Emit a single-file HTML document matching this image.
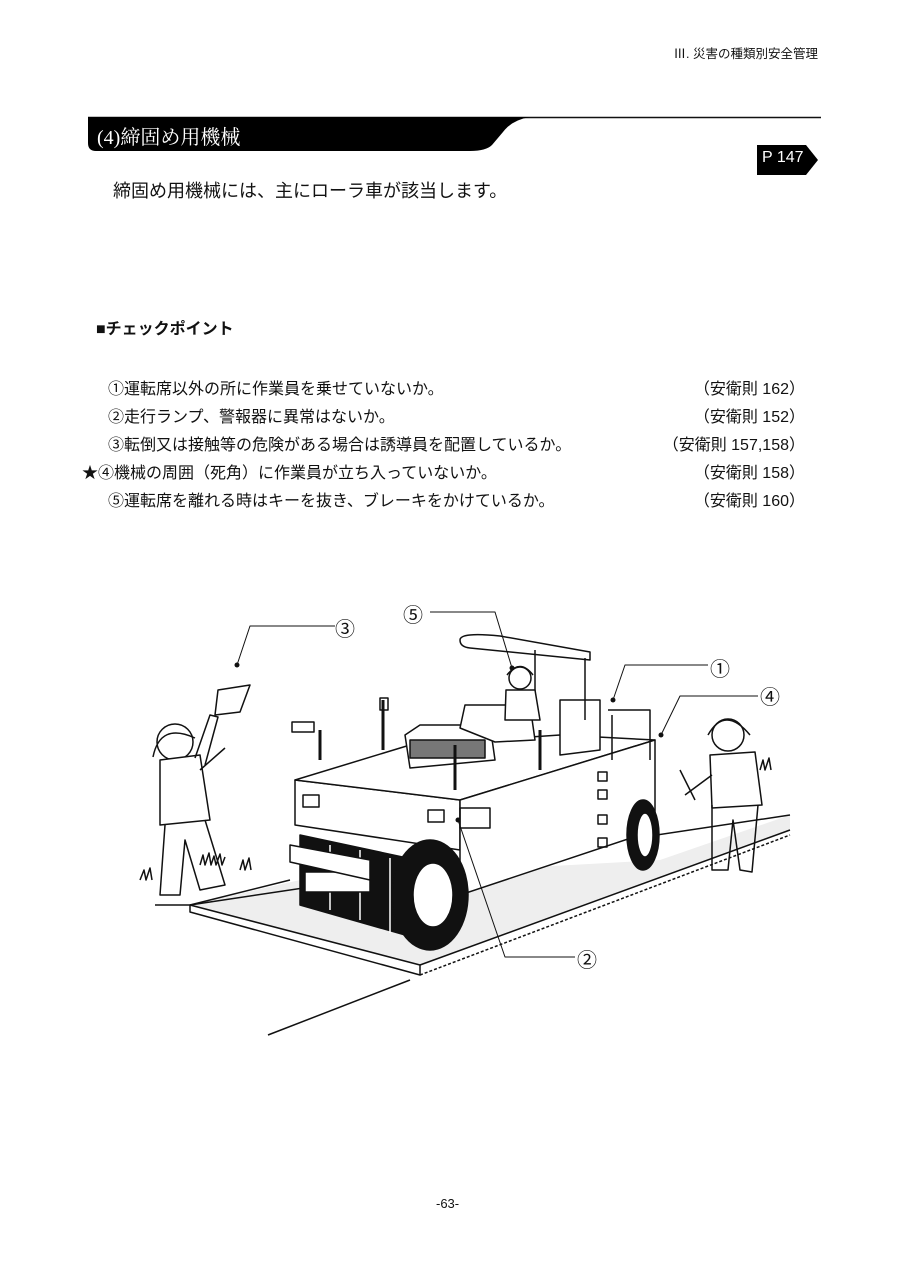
<!DOCTYPE html>
<html><head><meta charset="utf-8"><style>
body{margin:0;background:#fff;}
#p{position:relative;width:904px;height:1280px;overflow:hidden;font-family:"Liberation Sans","Noto Sans CJK JP",sans-serif;color:#111;}
.a{position:absolute;white-space:nowrap;}
.r{position:absolute;right:99px;white-space:nowrap;font-size:16px;}
.li{position:absolute;left:108px;font-size:16px;white-space:nowrap;}
</style></head><body><div id="p">
<div class="a" style="right:86px;top:43px;font-size:12.5px;">Ⅲ. 災害の種類別安全管理</div>
<svg class="a" style="left:0;top:0" width="904" height="260">
<line x1="88" y1="117.5" x2="821" y2="117.5" stroke="#111" stroke-width="1.5"/>
<path d="M88 117 L530 117 Q512 120 503 132 L492 145 Q486 151 470 151 L96 151 Q88 151 88 143 Z" fill="#000"/>
<path d="M757 145 L806 145 L818 160 L806 175 L757 175 Z" fill="#000"/>
</svg>
<div class="a" style="left:97px;top:121px;font-size:20px;color:#fff;font-family:'Liberation Serif','Noto Serif CJK SC',serif;">(4)締固め用機械</div>
<div class="a" style="left:762px;top:149px;font-size:16px;color:#fff;">P 147</div>
<div class="a" style="left:113px;top:177px;font-size:18px;">締固め用機械には、主にローラ車が該当します。</div>
<div class="a" style="left:96px;top:315px;font-size:16px;font-weight:bold;">■チェックポイント</div>
<div class="li" style="top:375px">①運転席以外の所に作業員を乗せていないか。</div><div class="r" style="top:375px">（安衛則 162）</div>
<div class="li" style="top:403px">②走行ランプ、警報器に異常はないか。</div><div class="r" style="top:403px">（安衛則 152）</div>
<div class="li" style="top:431px">③転倒又は接触等の危険がある場合は誘導員を配置しているか。</div><div class="r" style="top:431px">（安衛則 157,158）</div>
<div class="li" style="top:459px;left:82px">★④機械の周囲（死角）に作業員が立ち入っていないか。</div><div class="r" style="top:459px">（安衛則 158）</div>
<div class="li" style="top:487px">⑤運転席を離れる時はキーを抜き、ブレーキをかけているか。</div><div class="r" style="top:487px">（安衛則 160）</div>

<svg class="a" style="left:0;top:580px" width="904" height="480" viewBox="0 580 904 480" fill="none" stroke="#111" stroke-width="1.5" stroke-linejoin="round">
<path d="M190 905 L420 965 L790 830 L790 815 L660 860 L300 880 Z" fill="#eee" stroke="none"/>
<path d="M155 905 L190 905 L790 815" />
<path d="M190 905 L420 965 L420 975 L190 912 Z" fill="#fff"/>
<path d="M190 905 L290 880 M420 965 L790 830" />
<path d="M268 1035 L410 980" />
<path d="M420 975 L790 835" stroke-dasharray="3 2"/>
<path d="M140 880 l4 -10 l2 10 l4 -12 l2 12 M200 865 l3 -10 l2 10 l4 -12 l2 12 l3 -9 l2 9 l4 -11 l2 11 l3 -8 M240 870 l3 -10 l2 10 l4 -12 l2 12 M760 770 l3 -10 l2 10 l4 -12 l2 12"/>
<path d="M295 780 L460 800 L460 850 L295 825 Z" fill="#fff"/>
<path d="M295 780 L410 745 L560 735 L655 740 L460 800 Z" fill="#fff"/>
<path d="M460 800 L655 740 L655 830 L460 895 Z" fill="#fff"/>
<rect x="303" y="795" width="16" height="12"/><rect x="428" y="810" width="16" height="12"/><rect x="460" y="808" width="30" height="20"/>
<rect x="598" y="772" width="9" height="9"/><rect x="598" y="790" width="9" height="9"/><rect x="598" y="815" width="9" height="9"/><rect x="598" y="838" width="9" height="9"/>
<path d="M405 735 L420 725 L490 725 L495 760 L410 768 Z" fill="#fff"/>
<rect x="410" y="740" width="75" height="18" fill="#777"/>
<path d="M460 728 L465 705 L530 705 L535 740 L495 742 Z" fill="#fff"/>
<path d="M560 700 L600 700 L600 750 L560 755 Z" fill="#fff"/>
<path d="M460 640 Q460 632 500 636 L590 652 L590 660 L470 648 Q460 647 460 640 Z" fill="#fff"/>
<path d="M585 658 L585 720 M535 650 L535 700"/>
<path d="M608 710 L650 710 L650 760 M612 715 L612 760"/>
<path d="M320 730 L320 760 M383 700 L383 750 M455 745 L455 790 M540 730 L540 770" stroke-width="3"/>
<path d="M292 722 l22 0 l0 10 l-22 0 z M380 698 l8 0 l0 12 l-8 0 z"/>
<circle cx="520" cy="678" r="11" fill="#fff"/><path d="M507 675 Q520 658 533 675"/>
<path d="M506 690 L535 690 L540 720 L505 720 Z" fill="#fff"/>
<path d="M300 835 L440 865 L440 945 L300 905 Z" fill="#111"/>
<ellipse cx="430" cy="895" rx="38" ry="55" fill="#111"/>
<ellipse cx="433" cy="895" rx="20" ry="32" fill="#fff"/>
<path d="M330 845 l0 65 M360 850 l0 70 M390 858 l0 75" stroke="#fff"/>
<rect x="305" y="872" width="65" height="20" fill="#fff"/>
<path d="M290 845 L370 860 L370 880 L290 862 Z" fill="#fff"/>
<ellipse cx="643" cy="835" rx="16" ry="35" fill="#111"/><ellipse cx="645" cy="835" rx="8" ry="22" fill="#fff"/>
<circle cx="175" cy="742" r="18" fill="#fff"/><path d="M153 757 Q160 722 195 738"/>
<path d="M160 760 L200 755 L210 820 L160 825 Z" fill="#fff"/>
<path d="M195 758 L210 715 L218 717 L205 765 M200 770 L225 748"/>
<path d="M215 715 L218 690 L250 685 L240 712 Z" fill="#fff"/>
<path d="M165 825 L160 895 L180 895 L185 840 L200 890 L225 885 L205 820"/>
<circle cx="728" cy="735" r="16" fill="#fff"/><path d="M708 735 Q725 705 750 735"/>
<path d="M710 755 L755 752 L762 805 L712 808 Z" fill="#fff"/>
<path d="M712 805 L712 870 L728 870 L733 820 L740 870 L752 872 L758 805"/>
<path d="M712 775 L685 795 M680 770 L695 800"/>
<g stroke-width="1">
<path d="M430 612 L495 612 L512 668"/><path d="M335 626 L250 626 L237 665"/>
<path d="M708 665 L625 665 L613 700"/><path d="M758 696 L680 696 L661 735"/>
<path d="M575 957 L505 957 L458 820"/>
</g>
<g fill="#111" stroke="none"><circle cx="512" cy="668" r="2.5"/><circle cx="237" cy="665" r="2.5"/><circle cx="613" cy="700" r="2.5"/><circle cx="661" cy="735" r="2.5"/><circle cx="458" cy="820" r="2.5"/></g>
</svg>
<div class="a" style="left:403px;top:599px;font-size:20px;">⑤</div>
<div class="a" style="left:335px;top:613px;font-size:20px;">③</div>
<div class="a" style="left:710px;top:653px;font-size:20px;">①</div>
<div class="a" style="left:760px;top:681px;font-size:20px;">④</div>
<div class="a" style="left:577px;top:944px;font-size:20px;">②</div>
<div class="a" style="left:436px;top:1196px;font-size:13px;">-63-</div>
</div></body></html>
